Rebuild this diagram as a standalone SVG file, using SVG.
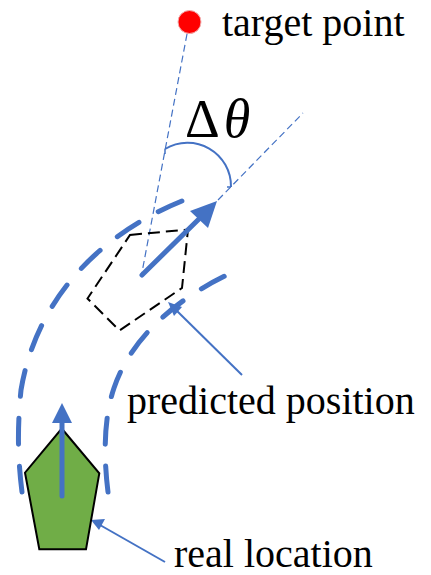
<svg xmlns="http://www.w3.org/2000/svg" width="431" height="575" viewBox="0 0 431 575">
<defs>
<style>
text{font-family:'Liberation Serif','Times New Roman',Times,Tinos,'Noto Serif','DejaVu Serif',FreeSerif,serif}
.lbl{font-size:40px;fill:#000}
.thin{fill:none;stroke:#4472C4;stroke-width:1.2;stroke-dasharray:7 4}
.track{fill:none;stroke:#4472C4;stroke-width:5;stroke-linecap:round;stroke-dasharray:26 22}
.lead{fill:none;stroke:#4472C4;stroke-width:2}
.blue{fill:#4472C4}
</style>
</defs>
<rect width="431" height="575" fill="#fff"/>
<g id="connectors">
<path class="thin" d="M187,34 L141.5,275"/>
<path class="thin" d="M218,200 L303,113"/>
<path fill="none" stroke="#4472C4" stroke-width="2" d="M165,149 A43.5,43.5 0 0 1 231,187"/>
<path fill="none" stroke="#4472C4" stroke-width="1.5" d="M165,149 L165,154 M231,187 L227,187"/>
<path class="track" d="M22,492 C18,460 17,430 21,390 C36,300 100,230 195,196"/>
<path class="track" d="M108,492 C104,460 103,420 114,388 C130,340 175,297 240,269"/>
<path class="lead" d="M242,375 L176,310"/>
<polygon class="blue" points="168,302 182,307 174,316"/>
<path class="lead" d="M165,562 L100,525"/>
<polygon class="blue" points="91,520 105,519 99,530"/>
</g>
<g id="target">
<circle cx="189.5" cy="22" r="11.5" fill="#FF0000" stroke="#f2b0b0" stroke-width="1"/>
<text class="lbl" x="222" y="36">target point</text>
</g>
<g id="angle">
<text x="185" y="137" font-size="54">Δ<tspan font-style="italic" dx="4">θ</tspan></text>
</g>
<g id="predicted">
<polygon points="130,235 188,229.5 182,288 119.5,330.5 87.5,298.5" fill="none" stroke="#000" stroke-width="2" stroke-dasharray="12 6"/>
<path d="M142,275 L203,215" stroke="#4472C4" stroke-width="5" stroke-linecap="round" fill="none"/>
<polygon class="blue" points="217,201 208,228 190,211"/>
<text class="lbl" x="127" y="414">predicted position</text>
</g>
<g id="real">
<polygon points="61.7,428.5 99.3,473.3 86,549.3 39.3,549.3 25,472.7" fill="#70AD47" stroke="#000" stroke-width="2"/>
<path d="M62,496 L62,420" stroke="#4472C4" stroke-width="5" stroke-linecap="round" fill="none"/>
<polygon class="blue" points="62,403 72,423 52,423"/>
<text class="lbl" x="174" y="567">real location</text>
</g>
</svg>
